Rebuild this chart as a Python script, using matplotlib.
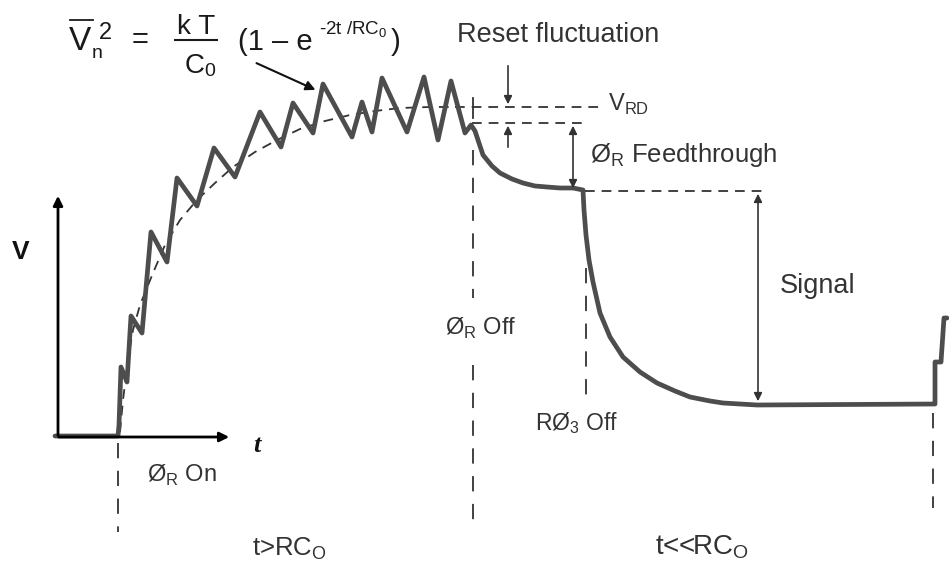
import matplotlib
matplotlib.use("Agg")
import matplotlib.pyplot as plt

plt.rcParams['font.family'] = ['Liberation Sans', 'DejaVu Sans']
plt.rcParams['lines.scale_dashes'] = False

# ---- data (pixel coordinates of the sketched waveform) ----
wave_x = [55, 118, 119, 121, 127, 131, 142, 151, 167, 177, 197, 214, 235, 260, 281, 293, 313,
          323, 352, 362, 372, 382, 407, 424, 438, 451, 465, 471, 475, 483, 492, 500, 512, 523,
          535, 547, 560, 573, 583, 584, 586, 589, 593, 600, 610, 623, 640, 657, 675, 690, 710,
          723, 757, 935, 935, 941, 944, 947]
wave_y = [436, 436, 425, 367, 382, 316, 333, 232, 262, 178, 206, 148, 177, 112, 147, 103, 133,
          84, 137, 102, 132, 78, 132, 77, 140, 81, 133, 125, 131, 155, 166, 173, 179, 183,
          186, 187, 188, 188, 190, 210, 235, 260, 282, 313, 337, 357, 372, 383, 391, 397, 401,
          403, 405, 404, 362, 362, 318, 318]

mean_x = [120, 123, 128, 133, 140, 153, 165, 180, 197, 215, 233, 255, 277, 300, 325, 350,
          375, 400, 430, 455]
mean_y = [432, 400, 360, 330, 305, 273, 245, 220, 200, 183, 167, 152, 140, 129, 121, 115,
          111, 108, 107, 107]

v_rd = 107
feed_top = 123
feed_level = 191
signal_level = 404

fig = plt.figure(figsize=(9.49, 5.65), dpi=100)
ax = fig.add_axes([0, 0, 1, 1])
ax.set_xlim(0, 949)
ax.set_ylim(565, 0)
ax.axis('off')

ink = '#333333'
dash = dict(color=ink, lw=1.3, dashes=(7, 5))

# axes of the sketch
ax.annotate('', xy=(58, 193), xytext=(58, 438),
            arrowprops=dict(arrowstyle='-|>', lw=2, color='black', mutation_scale=14))
ax.annotate('', xy=(232, 437), xytext=(56, 437),
            arrowprops=dict(arrowstyle='-|>', lw=2, color='black', mutation_scale=14))
ax.text(21, 252, 'V', fontsize=19, fontweight='bold', ha='center', va='center', color='#111111')
ax.text(257, 445, 't', fontsize=19, fontweight='bold', style='italic',
        family=['Liberation Serif'], ha='center', va='center', color='#111111')

# mean (dashed) curve and reference levels
ax.plot(mean_x, mean_y, **dash)
ax.plot([455, 600], [v_rd, v_rd], **dash)
ax.plot([472, 582], [feed_top, feed_top], **dash)
ax.plot([585, 762], [feed_level, feed_level], **dash)

# vertical dashed markers
vd = dict(color=ink, lw=1.3, dashes=(11, 9))
ax.plot([118, 118], [443, 532], **vd)
ax.plot([473, 473], [150, 298], **vd)
ax.plot([473, 473], [365, 522], **vd)
ax.plot([586, 586], [268, 398], **vd)
ax.plot([933, 933], [413, 508], **vd)
ax.plot([473, 473], [98, 118], color=ink, lw=1.3)

# waveform
ax.plot(wave_x, wave_y, color='#4d4d4d', lw=3.4, solid_joinstyle='round', solid_capstyle='round')

# arrows
ax.annotate('', xy=(508, v_rd), xytext=(508, 63),
            arrowprops=dict(arrowstyle='-|>', lw=1.2, color=ink, mutation_scale=12))
ax.annotate('', xy=(508, feed_top), xytext=(508, 150),
            arrowprops=dict(arrowstyle='-|>', lw=1.2, color=ink, mutation_scale=12))
ax.annotate('', xy=(573, feed_top), xytext=(573, feed_level),
            arrowprops=dict(arrowstyle='<|-|>', lw=1.2, color=ink, mutation_scale=12))
ax.annotate('', xy=(758, feed_level), xytext=(758, signal_level),
            arrowprops=dict(arrowstyle='<|-|>', lw=1.2, color=ink, mutation_scale=12))
ax.annotate('', xy=(318, 91), xytext=(254, 62),
            arrowprops=dict(arrowstyle='-|>', lw=1.5, color='#111111', mutation_scale=14))

# labels
ax.text(457, 35, 'Reset fluctuation', fontsize=19.5, ha='left', va='center', color=ink)
ax.text(608, 104, r'V$_\mathregular{RD}$', fontsize=17, ha='left', va='center', color=ink)
ax.text(590, 155, r'Ø$_\mathregular{R}$ Feedthrough', fontsize=18.5, ha='left', va='center', color=ink)
ax.text(780, 286, 'Signal', fontsize=19.5, ha='left', va='center', color=ink)
ax.text(445, 328, r'Ø$_\mathregular{R}$ Off', fontsize=17, ha='left', va='center', color=ink)
ax.text(535, 423, r'RØ$_\mathregular{3}$ Off', fontsize=16.5, ha='left', va='center', color=ink)
ax.text(147, 475, r'Ø$_\mathregular{R}$ On', fontsize=17, ha='left', va='center', color=ink)
ax.text(252, 549, r't>RC$_\mathregular{O}$', fontsize=18.5, ha='left', va='center', color=ink)
ax.text(655, 547, r't<<RC$_\mathregular{O}$', fontsize=20, ha='left', va='center', color=ink)

# formula
fk = '#1a1a1a'
ax.text(69, 42, 'V', fontsize=24, ha='left', va='center', color=fk)
ax.plot([70, 93], [20, 20], color=fk, lw=1.3)
ax.text(92, 53, 'n', fontsize=14, ha='left', va='center', color=fk)
ax.text(99, 33, '2', fontsize=17, ha='left', va='center', color=fk)
ax.text(140, 40, '=', fontsize=21, ha='center', va='center', color=fk)
ax.text(196, 27, 'k T', fontsize=20, ha='center', va='center', color=fk)
ax.plot([175, 217], [40, 40], color=fk, lw=1.5)
ax.text(185, 66, 'C', fontsize=20, ha='left', va='center', color=fk)
ax.text(204, 72, '0', fontsize=14, ha='left', va='center', color=fk)
ax.text(238, 42, '(1 – e', fontsize=21, ha='left', va='center', color=fk)
ax.text(319, 30, r'-2t /RC$_\mathregular{0}$', fontsize=13.5, ha='left', va='center', color=fk)
ax.text(391, 42, ')', fontsize=21, ha='left', va='center', color=fk)

fig.savefig('out.png', dpi=100, facecolor='white')
